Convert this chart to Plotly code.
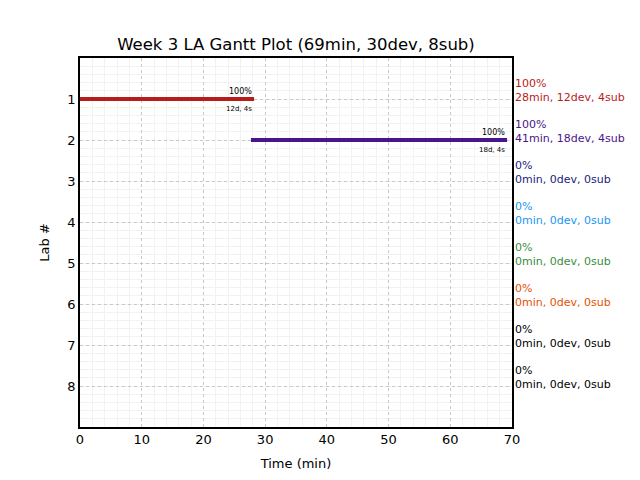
import plotly.graph_objects as go

labs = [1, 2, 3, 4, 5, 6, 7, 8]
bar_starts = [0, 27.7, 0, 0, 0, 0, 0, 0]
bar_ends = [28.2, 69.2, 0, 0, 0, 0, 0, 0]
minutes = [28, 41, 0, 0, 0, 0, 0, 0]
devs = [12, 18, 0, 0, 0, 0, 0, 0]
subs = [4, 4, 0, 0, 0, 0, 0, 0]
pcts = [100, 100, 0, 0, 0, 0, 0, 0]
colors = ["#b71c1c", "#4a148c", "#1a237e", "#2196f3", "#388e3c", "#e65100", "#000000", "#000000"]
title = "Week 3 LA Gantt Plot (69min, 30dev, 8sub)"

fig = go.Figure()
annotations = []
for lab, s, e, m, dv, sb, p, c in zip(labs, bar_starts, bar_ends, minutes, devs, subs, pcts, colors):
    if m > 0:
        fig.add_trace(go.Scatter(x=[s, e], y=[lab, lab], mode="lines",
                                 line=dict(color=c, width=4), showlegend=False, hoverinfo="skip"))
        annotations.append(dict(x=e, y=lab, xref="x", yref="y", text=f"{p}%",
                                showarrow=False, xanchor="right", yanchor="bottom", yshift=1,
                                font=dict(size=8, color="black")))
        annotations.append(dict(x=e, y=lab, xref="x", yref="y", text=f"{dv}d, {sb}s",
                                showarrow=False, xanchor="right", yanchor="top", yshift=-4,
                                font=dict(size=7, color="black")))
    annotations.append(dict(x=1.003, y=lab + 0.18, xref="paper", yref="y",
                            text=f"{p}%<br>{m}min, {dv}dev, {sb}sub",
                            showarrow=False, xanchor="left", yanchor="bottom", align="left",
                            font=dict(size=11, color=c)))

fig.update_layout(
    width=640, height=480,
    margin=dict(l=72, r=136, t=50, b=61),
    paper_bgcolor="white", plot_bgcolor="white",
    font=dict(family="DejaVu Sans", size=13, color="black"),
    title=dict(text=title, x=0.5, xref="paper", xanchor="center", y=0.925, yanchor="middle",
               font=dict(size=16.5, color="black")),
    annotations=annotations,
    xaxis=dict(range=[0, 70], tickmode="linear", tick0=0, dtick=10,
               showgrid=True, gridcolor="#c8c8c8", griddash="dot", gridwidth=1,
               minor=dict(dtick=2, showgrid=True, gridcolor="#f2f2f2", gridwidth=1, griddash="solid"),
               showline=True, linecolor="black", linewidth=1.5, mirror=True,
               ticks="", zeroline=False,
               tickfont=dict(size=13),
               title=dict(text="Time (min)", font=dict(size=13), standoff=13)),
    yaxis=dict(range=[9, 0], tickmode="array", tickvals=labs, ticktext=[str(l) for l in labs],
               showgrid=True, gridcolor="#c8c8c8", griddash="dot", gridwidth=1,
               minor=dict(dtick=0.2, showgrid=True, gridcolor="#f2f2f2", gridwidth=1, griddash="solid"),
               showline=True, linecolor="black", linewidth=1.5, mirror=True,
               ticks="", zeroline=False,
               tickfont=dict(size=13),
               title=dict(text="Lab #", font=dict(size=13))),
)

fig.write_html("out.html")
